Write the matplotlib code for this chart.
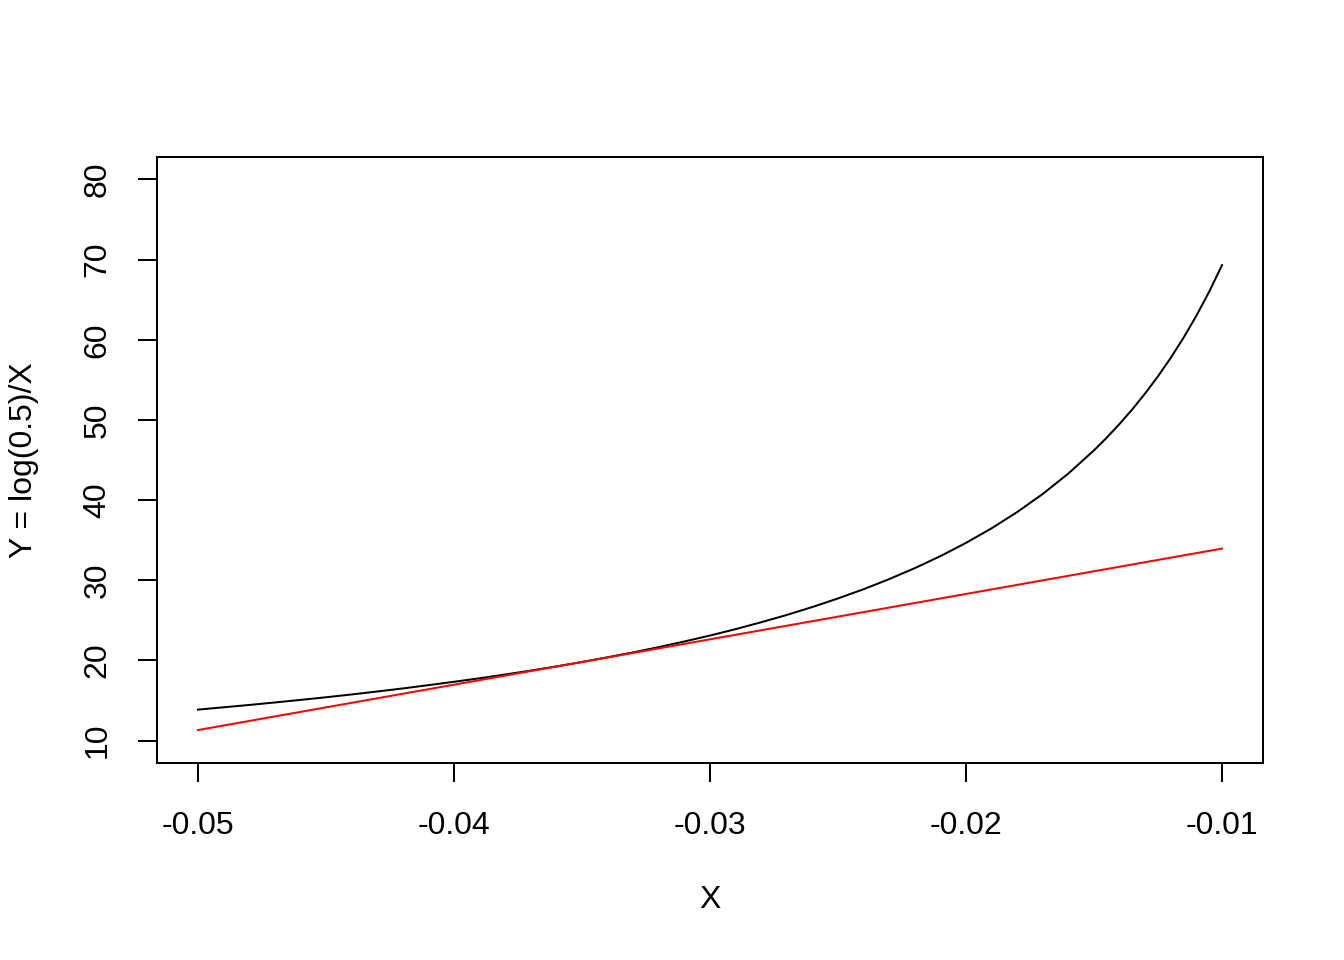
import matplotlib
matplotlib.use("Agg")
import matplotlib.pyplot as plt

# values (black curve)
x_vals = [-0.050, -0.049, -0.048, -0.047, -0.046, -0.045, -0.044, -0.043,
          -0.042, -0.041, -0.040, -0.039, -0.038, -0.037, -0.036, -0.035,
          -0.034, -0.033, -0.032, -0.031, -0.030, -0.029, -0.028, -0.027,
          -0.026, -0.025, -0.024, -0.023, -0.022, -0.021, -0.020, -0.019,
          -0.018, -0.017, -0.016, -0.015, -0.0145, -0.014, -0.0135, -0.013,
          -0.0125, -0.012, -0.0115, -0.011, -0.0105, -0.010]
y_vals = [13.86, 14.15, 14.44, 14.75, 15.07, 15.40, 15.75, 16.12,
          16.50, 16.91, 17.33, 17.77, 18.24, 18.73, 19.25, 19.80,
          20.39, 21.00, 21.66, 22.36, 23.10, 23.90, 24.76, 25.67,
          26.66, 27.73, 28.88, 30.14, 31.51, 33.01, 34.66, 36.48,
          38.51, 40.77, 43.32, 46.21, 47.80, 49.51, 51.34, 53.32,
          55.45, 57.76, 60.27, 63.01, 66.01, 69.31]

# red straight line, end points
line_x = [-0.050, -0.010]
line_y = [11.31, 33.95]

x_ticks = [-0.05, -0.04, -0.03, -0.02, -0.01]
x_tick_labels = ["-0.05", "-0.04", "-0.03", "-0.02", "-0.01"]
y_ticks = [10, 20, 30, 40, 50, 60, 70, 80]

plt.rcParams['font.family'] = ['Liberation Sans', 'DejaVu Sans']
plt.rcParams['font.size'] = 12

fig = plt.figure(figsize=(7, 5), dpi=192)
ax = fig.add_axes([157 / 1344, 1 - 763 / 960, 1106 / 1344, 606 / 960])

ax.plot(x_vals, y_vals, color="black", linewidth=0.75)
ax.plot(line_x, line_y, color="#FF0000", linewidth=0.75)

ax.set_xlim(-0.0516, -0.0084)
ax.set_ylim(7.2, 82.8)
ax.set_xticks(x_ticks)
ax.set_xticklabels(x_tick_labels)
ax.set_yticks(y_ticks)
ax.set_yticklabels([str(v) for v in y_ticks], rotation=90, va="center")

ax.tick_params(axis='both', direction='out', length=7.2, width=0.75,
               labelsize=12)
ax.tick_params(axis='x', pad=10.8)
ax.tick_params(axis='y', pad=9.5)
for s in ax.spines.values():
    s.set_linewidth(0.75)

ax.set_xlabel("X", fontsize=12)
ax.set_ylabel("Y = log(0.5)/X", fontsize=12)
ax.xaxis.set_label_coords(0.5, (763 - 900) / 606)
ax.xaxis.label.set_va("center")
ax.yaxis.set_label_coords((24 - 157) / 1106, 0.5)
ax.yaxis.label.set_va("center")

fig.savefig("out.png", dpi=192)
